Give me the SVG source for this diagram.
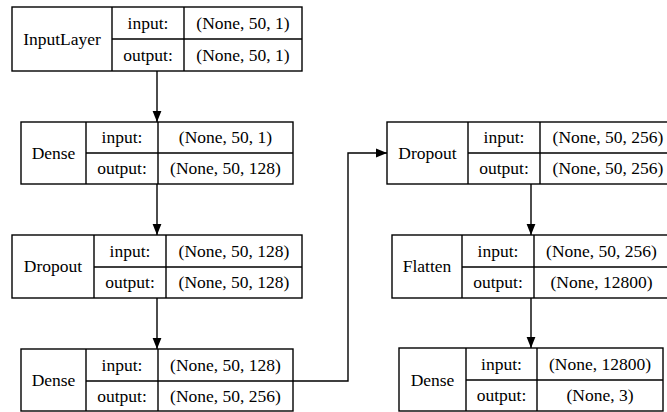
<svg xmlns="http://www.w3.org/2000/svg" width="667" height="412" viewBox="0 0 667 412">
<defs>
<style>
.b{fill:#fff;stroke:#000;stroke-width:1.4}
.l{fill:none;stroke:#000;stroke-width:1.4}
text{font-family:"Times New Roman",Times,"Liberation Serif",Tinos,"Noto Serif","DejaVu Serif",FreeSerif,serif;font-size:17.5px;fill:#000;text-anchor:middle}
</style>
<marker id="ah" viewBox="0 0 10 10" refX="10" refY="5" markerWidth="11" markerHeight="11" markerUnits="userSpaceOnUse" orient="auto">
<path d="M0,1 L10,5 L0,9 Z" fill="#000"/>
</marker>
</defs>
<rect width="667" height="412" fill="#fff"/>
<g id="connectors">
<line class="l" x1="157" y1="71" x2="157" y2="122" marker-end="url(#ah)"/>
<line class="l" x1="157" y1="184" x2="157" y2="235" marker-end="url(#ah)"/>
<line class="l" x1="157" y1="298" x2="157" y2="349" marker-end="url(#ah)"/>
<polyline class="l" points="293,381 348,381 348,153 387,153" marker-end="url(#ah)"/>
<line class="l" x1="531" y1="184" x2="531" y2="235" marker-end="url(#ah)"/>
<line class="l" x1="531" y1="298" x2="531" y2="348" marker-end="url(#ah)"/>
</g>
<g id="inputlayer">
<rect class="b" x="12" y="7" width="290" height="64"/>
<path class="l" d="M112,7V71M184,7V71M112,39H302"/>
<text x="62" y="45">InputLayer</text>
<text x="148" y="29">input:</text>
<text x="148" y="61">output:</text>
<text x="243" y="29">(None, 50, 1)</text>
<text x="243" y="61">(None, 50, 1)</text>
</g>
<g id="dense1">
<rect class="b" x="21" y="122" width="272" height="62"/>
<path class="l" d="M86,122V184M158,122V184M86,153H293"/>
<text x="53.5" y="159">Dense</text>
<text x="122" y="143">input:</text>
<text x="122" y="174">output:</text>
<text x="225.5" y="143">(None, 50, 1)</text>
<text x="225.5" y="174">(None, 50, 128)</text>
</g>
<g id="dropout1">
<rect class="b" x="12" y="235" width="290" height="63"/>
<path class="l" d="M94,235V298M166,235V298M94,267H302"/>
<text x="53" y="272">Dropout</text>
<text x="130" y="257">input:</text>
<text x="130" y="288">output:</text>
<text x="234" y="257">(None, 50, 128)</text>
<text x="234" y="288">(None, 50, 128)</text>
</g>
<g id="dense2">
<rect class="b" x="21" y="349" width="272" height="62"/>
<path class="l" d="M86,349V411M158,349V411M86,381H293"/>
<text x="53.5" y="386">Dense</text>
<text x="122" y="371">input:</text>
<text x="122" y="402">output:</text>
<text x="225.5" y="371">(None, 50, 128)</text>
<text x="225.5" y="402">(None, 50, 256)</text>
</g>
<g id="dropout2">
<rect class="b" x="387" y="122" width="289" height="62"/>
<path class="l" d="M468,122V184M540,122V184M468,153H676"/>
<text x="427.5" y="159">Dropout</text>
<text x="504" y="143">input:</text>
<text x="504" y="174">output:</text>
<text x="608" y="143">(None, 50, 256)</text>
<text x="608" y="174">(None, 50, 256)</text>
</g>
<g id="flatten">
<rect class="b" x="392" y="235" width="277" height="63"/>
<path class="l" d="M462,235V298M534,235V298M462,267H669"/>
<text x="427" y="272">Flatten</text>
<text x="498" y="257">input:</text>
<text x="498" y="288">output:</text>
<text x="601.5" y="257">(None, 50, 256)</text>
<text x="601.5" y="288">(None, 12800)</text>
</g>
<g id="dense3">
<rect class="b" x="399" y="348" width="264" height="63"/>
<path class="l" d="M466,348V411M537,348V411M466,380H663"/>
<text x="432.5" y="386">Dense</text>
<text x="501.5" y="370">input:</text>
<text x="501.5" y="401">output:</text>
<text x="600" y="370">(None, 12800)</text>
<text x="600" y="401">(None, 3)</text>
</g>
</svg>
